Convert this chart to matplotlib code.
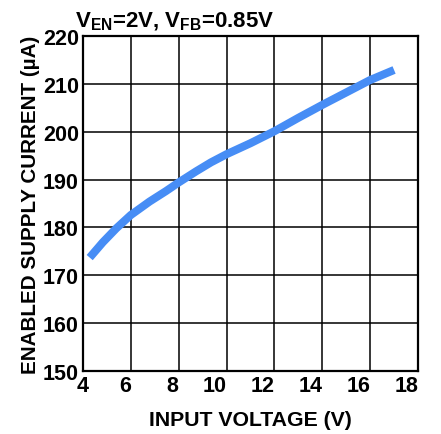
import matplotlib
matplotlib.use("Agg")
import matplotlib.pyplot as plt

# Data
input_voltage = [4.28, 4.83, 5.39, 6.0, 6.78, 7.47, 8.0, 8.72, 9.35, 10.0, 11.0, 12.0, 13.0, 14.0, 15.0, 16.0, 17.0]
supply_current = [173.7, 176.9, 179.8, 182.6, 185.4, 187.6, 189.4, 191.7, 193.6, 195.3, 197.6, 200.1, 202.9, 205.6, 208.2, 210.8, 212.9]

x_ticks = [4, 6, 8, 10, 12, 14, 16, 18]
y_ticks = [150, 160, 170, 180, 190, 200, 210, 220]

plt.rcParams['font.family'] = ['Liberation Sans', 'DejaVu Sans']
plt.rcParams['font.weight'] = 'bold'
plt.rcParams['mathtext.fontset'] = 'custom'
plt.rcParams['mathtext.rm'] = 'Liberation Sans:bold'
plt.rcParams['mathtext.it'] = 'Liberation Sans:bold'
plt.rcParams['mathtext.bf'] = 'Liberation Sans:bold'
plt.rcParams['mathtext.default'] = 'rm'

fig = plt.figure(figsize=(4.41, 4.35), dpi=100)
ax = fig.add_axes([83/441, 63/435, 335/441, 335/435])

ax.plot(input_voltage, supply_current, color='#478df5', linewidth=5.8,
        solid_capstyle='butt', solid_joinstyle='round')

ax.set_xlim(4, 18)
ax.set_ylim(150, 220)
ax.set_xticks(x_ticks)
ax.set_yticks(y_ticks)
ax.set_xticklabels([str(v) for v in x_ticks], fontsize=15.5, fontweight='bold')
ax.set_yticklabels([str(v) for v in y_ticks], fontsize=15.5, fontweight='bold')
ax.tick_params(axis='both', length=0, colors='black')
ax.tick_params(axis='y', pad=3)
ax.tick_params(axis='x', pad=3)
# x tick labels in the reference sit right-aligned to their grid lines (first one centred)
for i, lbl in enumerate(ax.get_xticklabels()):
    lbl.set_horizontalalignment('center' if i == 0 else 'right')
ax.grid(True, color='black', linewidth=1.1)
ax.set_axisbelow(True)
for s in ax.spines.values():
    s.set_linewidth(1.6)
    s.set_color('black')

ax.set_xlabel('INPUT VOLTAGE (V)', fontsize=15.3, fontweight='bold', labelpad=10)
ax.set_ylabel('ENABLED SUPPLY CURRENT (µA)', fontsize=14.9, fontweight='bold', labelpad=2)

fig.text(75/441, 1 - 27/435, r'V$_{EN}$=2V, V$_{FB}$=0.85V', fontsize=16,
         fontweight='bold', va='baseline', ha='left')

fig.savefig('out.png', dpi=100)
